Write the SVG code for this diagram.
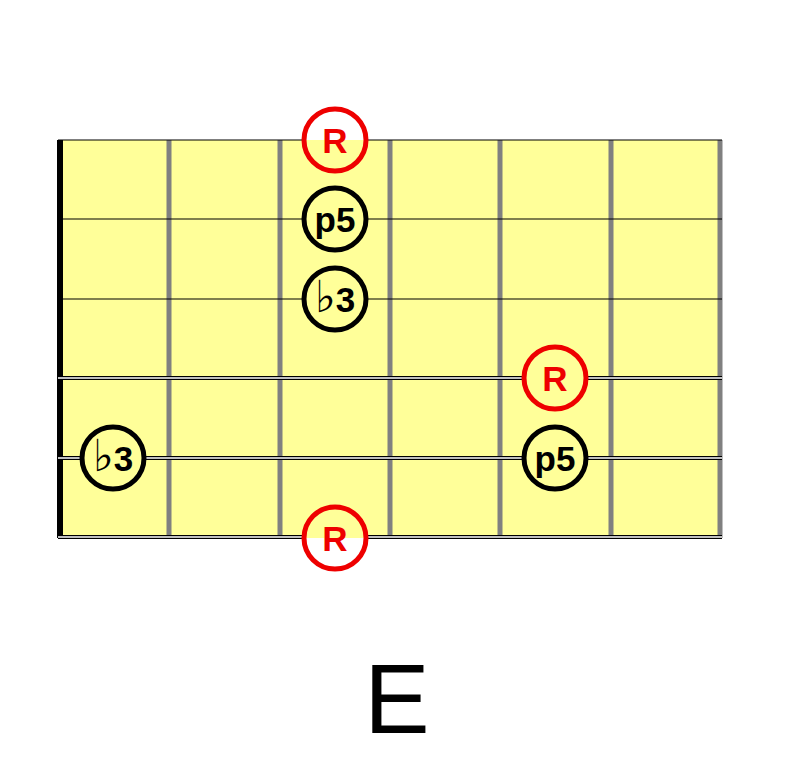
<svg xmlns="http://www.w3.org/2000/svg" width="792" height="765" viewBox="0 0 792 765">
<style>
.fret{stroke:#808080;stroke-width:5}
.s1{stroke:#000;stroke-width:1.2;fill:none}
.s2o{stroke:#000;stroke-width:4;fill:none}
.s2i{stroke:#fff;stroke-width:1.6;fill:none}
.red circle{fill:none;stroke:#ee0000;stroke-width:5}
.blk circle{fill:none;stroke:#000;stroke-width:5}
.red text{fill:#ee0000}
.blk text{fill:#000}
text{font-family:"Liberation Sans",Arial,sans-serif;font-weight:bold;font-size:35px;text-anchor:middle}
.flat{font-family:"DejaVu Sans",sans-serif;font-weight:normal;font-size:44px;fill:#000}
</style>
<rect width="792" height="765" fill="#fff"/>
<g id="board">
<rect x="58" y="140" width="664" height="398" fill="#ffff99"/>
<line class="fret" x1="169" y1="140" x2="169" y2="538"/>
<line class="fret" x1="280" y1="140" x2="280" y2="538"/>
<line class="fret" x1="390" y1="140" x2="390" y2="538"/>
<line class="fret" x1="500" y1="140" x2="500" y2="538"/>
<line class="fret" x1="611" y1="140" x2="611" y2="538"/>
<line class="fret" x1="720" y1="140" x2="720" y2="538"/>
<rect x="57" y="140" width="6" height="398" fill="#000"/>
</g>
<g id="strings">
<path class="s1" d="M58 140H302M368 140H722M58 219H302M368 219H722M58 299H302M368 299H722"/>
<path class="s2o" d="M58 378H522M588 378H722M58 458H80M146 458H522M588 458H722M58 537H302M368 537H722"/>
<path class="s2i" d="M58 378H522M588 378H722M58 458H80M146 458H522M588 458H722M58 537H302M368 537H722"/>
</g>
<g id="n1" class="red"><circle cx="335" cy="140" r="31"/><text x="335" y="153">R</text></g>
<g id="n2" class="blk"><circle cx="335" cy="219" r="31"/><text x="335" y="232">p5</text></g>
<g id="n3" class="blk"><circle cx="335" cy="299" r="31"/><text x="335" y="312"><tspan class="flat">♭</tspan>3</text></g>
<g id="n4" class="red"><circle cx="555" cy="378" r="31"/><text x="555" y="391">R</text></g>
<g id="n5" class="blk"><circle cx="113" cy="458" r="31"/><text x="113" y="471"><tspan class="flat">♭</tspan>3</text></g>
<g id="n6" class="blk"><circle cx="555" cy="458" r="31"/><text x="555" y="471">p5</text></g>
<g id="n7" class="red"><circle cx="335" cy="538" r="31"/><text x="335" y="551">R</text></g>
<text id="title" x="397" y="733" style="font-weight:normal;font-size:98px;fill:#000">E</text>
</svg>
